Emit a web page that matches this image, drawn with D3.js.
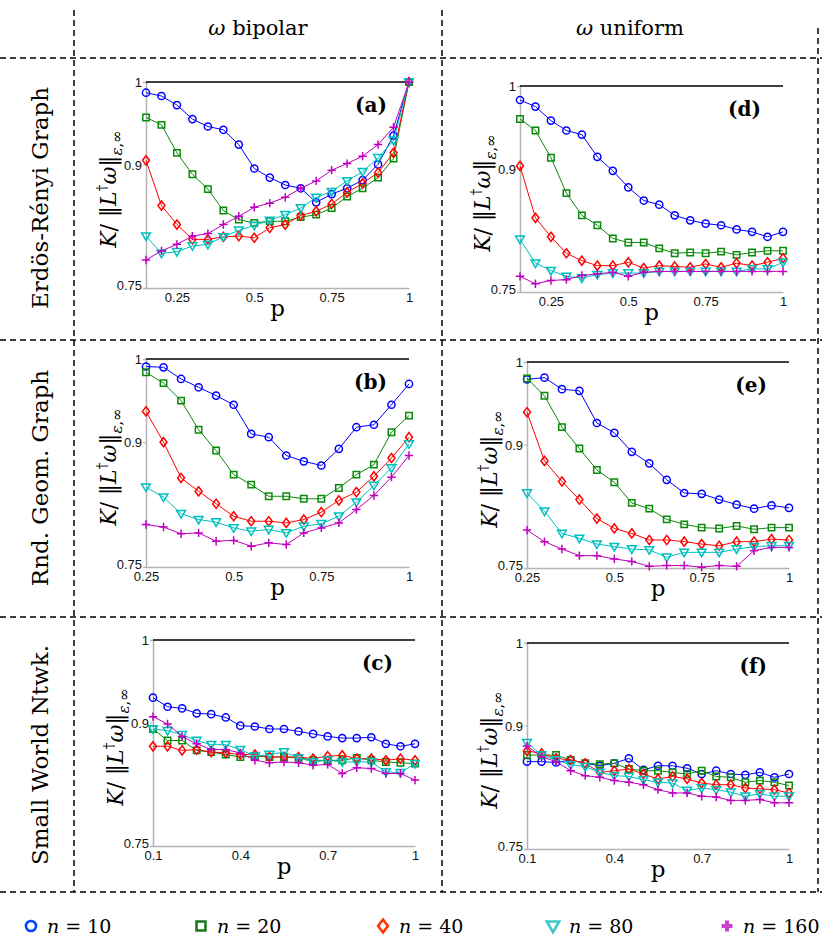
<!DOCTYPE html>
<html>
<head>
<meta charset="utf-8">
<script src="https://cdn.jsdelivr.net/npm/d3@7"></script>
<style>
  body { margin: 0; background: #fff; }
  svg { display: block; }
</style>
</head>
<body>
<div id="chart"></div>
<script>
/**
 * Data
 * */

// x grids (edge probability p)
const pER = [0.15, 0.2, 0.25, 0.3, 0.35, 0.4, 0.45, 0.5, 0.55, 0.6, 0.65, 0.7, 0.75, 0.8, 0.85, 0.9, 0.95, 1]
const pRG = [0.25, 0.3, 0.35, 0.4, 0.45, 0.5, 0.55, 0.6, 0.65, 0.7, 0.75, 0.8, 0.85, 0.9, 0.95, 1]
const pSW = [0.1, 0.15, 0.2, 0.25, 0.3, 0.35, 0.4, 0.45, 0.5, 0.55, 0.6, 0.65, 0.7, 0.75, 0.8, 0.85, 0.9, 0.95, 1]

const sizes = ['10', '20', '40', '80', '160']

// (a) Erdos-Renyi, bipolar
const aN10 = [0.987, 0.983, 0.972, 0.955, 0.946, 0.942, 0.924, 0.895, 0.884, 0.875, 0.871, 0.854, 0.864, 0.871, 0.881, 0.900, 0.935, 1.0]
const aN20 = [0.957, 0.948, 0.914, 0.888, 0.870, 0.844, 0.833, 0.829, 0.831, 0.831, 0.836, 0.839, 0.847, 0.861, 0.871, 0.884, 0.907, 1.0]
const aN40 = [0.905, 0.850, 0.827, 0.809, 0.809, 0.812, 0.813, 0.811, 0.823, 0.827, 0.838, 0.843, 0.852, 0.866, 0.877, 0.890, 0.914, 1.0]
const aN80 = [0.813, 0.792, 0.794, 0.801, 0.803, 0.812, 0.820, 0.826, 0.832, 0.839, 0.847, 0.860, 0.867, 0.880, 0.891, 0.908, 0.929, 1.0]
const aN160 = [0.784, 0.795, 0.803, 0.813, 0.816, 0.827, 0.837, 0.848, 0.853, 0.860, 0.871, 0.880, 0.893, 0.901, 0.910, 0.924, 0.945, 1.0]

// (d) Erdos-Renyi, uniform
const dN10 = [0.983, 0.975, 0.958, 0.946, 0.941, 0.914, 0.897, 0.877, 0.861, 0.856, 0.843, 0.837, 0.833, 0.831, 0.826, 0.823, 0.817, 0.823]
const dN20 = [0.960, 0.946, 0.913, 0.870, 0.843, 0.831, 0.815, 0.810, 0.810, 0.803, 0.797, 0.798, 0.797, 0.799, 0.795, 0.798, 0.800, 0.800]
const dN40 = [0.903, 0.840, 0.817, 0.797, 0.788, 0.782, 0.782, 0.786, 0.779, 0.782, 0.781, 0.780, 0.784, 0.780, 0.785, 0.782, 0.786, 0.791]
const dN80 = [0.814, 0.785, 0.776, 0.769, 0.767, 0.771, 0.773, 0.773, 0.773, 0.775, 0.775, 0.775, 0.775, 0.775, 0.775, 0.778, 0.778, 0.786]
const dN160 = [0.769, 0.760, 0.764, 0.765, 0.770, 0.772, 0.774, 0.769, 0.774, 0.775, 0.775, 0.775, 0.775, 0.775, 0.775, 0.775, 0.775, 0.775]

// (b) random geometric, bipolar
const bN10 = [0.991, 0.990, 0.976, 0.966, 0.956, 0.945, 0.910, 0.906, 0.884, 0.877, 0.872, 0.892, 0.918, 0.921, 0.945, 0.970]
const bN20 = [0.984, 0.971, 0.950, 0.915, 0.890, 0.861, 0.849, 0.835, 0.835, 0.832, 0.832, 0.845, 0.861, 0.873, 0.912, 0.932]
const bN40 = [0.937, 0.900, 0.857, 0.841, 0.826, 0.811, 0.805, 0.805, 0.803, 0.807, 0.816, 0.830, 0.840, 0.859, 0.881, 0.906]
const bN80 = [0.846, 0.834, 0.814, 0.807, 0.804, 0.797, 0.793, 0.795, 0.791, 0.799, 0.802, 0.811, 0.828, 0.848, 0.869, 0.898]
const bN160 = [0.801, 0.798, 0.790, 0.791, 0.781, 0.782, 0.775, 0.779, 0.777, 0.791, 0.797, 0.803, 0.819, 0.836, 0.858, 0.884]

// (e) random geometric, uniform
const eN10 = [0.979, 0.981, 0.967, 0.965, 0.926, 0.914, 0.891, 0.877, 0.857, 0.841, 0.840, 0.833, 0.827, 0.822, 0.826, 0.823]
const eN20 = [0.980, 0.959, 0.921, 0.895, 0.869, 0.854, 0.829, 0.822, 0.809, 0.803, 0.799, 0.798, 0.801, 0.797, 0.799, 0.799]
const eN40 = [0.939, 0.880, 0.855, 0.833, 0.810, 0.798, 0.792, 0.784, 0.784, 0.782, 0.779, 0.777, 0.782, 0.782, 0.785, 0.784]
const eN80 = [0.841, 0.819, 0.792, 0.786, 0.779, 0.776, 0.773, 0.772, 0.763, 0.769, 0.769, 0.769, 0.773, 0.776, 0.777, 0.777]
const eN160 = [0.796, 0.782, 0.773, 0.765, 0.765, 0.761, 0.758, 0.752, 0.753, 0.753, 0.751, 0.753, 0.752, 0.771, 0.775, 0.775]

// (c) small world, bipolar
const cN10 = [0.930, 0.919, 0.917, 0.911, 0.910, 0.906, 0.896, 0.895, 0.892, 0.892, 0.889, 0.886, 0.883, 0.881, 0.881, 0.882, 0.874, 0.871, 0.874]
const cN20 = [0.892, 0.878, 0.878, 0.866, 0.864, 0.861, 0.858, 0.859, 0.858, 0.858, 0.857, 0.854, 0.854, 0.854, 0.857, 0.854, 0.852, 0.851, 0.850]
const cN40 = [0.871, 0.871, 0.866, 0.867, 0.864, 0.863, 0.861, 0.861, 0.858, 0.858, 0.858, 0.856, 0.859, 0.860, 0.856, 0.856, 0.854, 0.856, 0.854]
const cN80 = [0.892, 0.890, 0.885, 0.878, 0.873, 0.873, 0.867, 0.859, 0.861, 0.864, 0.857, 0.852, 0.854, 0.852, 0.852, 0.852, 0.840, 0.839, 0.850]
const cN160 = [0.907, 0.898, 0.883, 0.874, 0.867, 0.867, 0.863, 0.854, 0.851, 0.852, 0.851, 0.848, 0.849, 0.838, 0.845, 0.844, 0.838, 0.838, 0.830]

// (f) small world, uniform
const fN10 = [0.856, 0.856, 0.855, 0.858, 0.854, 0.851, 0.854, 0.860, 0.846, 0.851, 0.851, 0.848, 0.841, 0.845, 0.841, 0.840, 0.843, 0.837, 0.841]
const fN20 = [0.864, 0.864, 0.864, 0.858, 0.854, 0.853, 0.854, 0.847, 0.845, 0.845, 0.843, 0.841, 0.845, 0.838, 0.837, 0.831, 0.833, 0.831, 0.827]
const fN40 = [0.869, 0.866, 0.860, 0.858, 0.854, 0.843, 0.845, 0.847, 0.841, 0.835, 0.838, 0.835, 0.830, 0.828, 0.828, 0.824, 0.823, 0.822, 0.818]
const fN80 = [0.879, 0.864, 0.858, 0.852, 0.850, 0.843, 0.839, 0.838, 0.834, 0.831, 0.830, 0.821, 0.824, 0.822, 0.819, 0.814, 0.817, 0.814, 0.814]
const fN160 = [0.875, 0.862, 0.856, 0.845, 0.839, 0.837, 0.833, 0.831, 0.828, 0.822, 0.818, 0.818, 0.814, 0.813, 0.809, 0.809, 0.810, 0.806, 0.806]

const yTicks = [0.75, 0.9, 1]
const xTicksER = [0.25, 0.5, 0.75, 1]
const xTicksRG = [0.25, 0.5, 0.75, 1]
const xTicksSW = [0.1, 0.4, 0.7, 1]

const colHeaders = ['bipolar', 'uniform']
const rowHeaders = ['Erdös-Rényi Graph', 'Rnd. Geom. Graph', 'Small World Ntwk.']


/**
 * Layout
 * */

const width = 822
const height = 939

const colors = ['#0000ff', '#0a8a0a', '#ff0000', '#00bfbf', '#bf00bf']
const legendColors = ['#0040ff', '#1a7a1a', '#ff3300', '#40c8c8', '#cc40cc']
const shapes = ['circle', 'square', 'diamond', 'triangle', 'plus']

// each panel: plot box in pixels + the arrays it uses
const panels = [
	{tag: '(a)', p: pER, xTicks: xTicksER, series: [aN10, aN20, aN40, aN80, aN160], box: [146, 409, 82, 288]},
	{tag: '(d)', p: pER, xTicks: xTicksER, series: [dN10, dN20, dN40, dN80, dN160], box: [520, 783, 86, 292]},
	{tag: '(b)', p: pRG, xTicks: xTicksRG, series: [bN10, bN20, bN40, bN80, bN160], box: [146, 409, 359, 567]},
	{tag: '(e)', p: pRG, xTicks: xTicksRG, series: [eN10, eN20, eN40, eN80, eN160], box: [527, 789, 362, 568]},
	{tag: '(c)', p: pSW, xTicks: xTicksSW, series: [cN10, cN20, cN40, cN80, cN160], box: [153, 415, 640, 846]},
	{tag: '(f)', p: pSW, xTicks: xTicksSW, series: [fN10, fN20, fN40, fN80, fN160], box: [527, 789, 643, 849]}
]

const serif = '"DejaVu Serif", "Liberation Serif", serif'
const sans = '"Liberation Sans", Arial, sans-serif'

// marker outlines centred on 0,0
const markerPath = (shape, k = 1) => {
	if (shape == 'circle') { const r = 3.6 * k; return `M${r},0A${r},${r} 0 1,1 ${-r},0A${r},${r} 0 1,1 ${r},0Z` }
	if (shape == 'square') { const s = 3.2 * k; return `M${-s},${-s}H${s}V${s}H${-s}Z` }
	if (shape == 'diamond') { const w = 3.5 * k, h = 4.6 * k; return `M0,${-h}L${w},0L0,${h}L${-w},0Z` }
	if (shape == 'triangle') { const w = 4.4 * k; return `M${-w},${-3.2 * k}L${w},${-3.2 * k}L0,${4.4 * k}Z` }
	const s = 4.2 * k
	return `M${-s},0H${s}M0,${-s}V${s}`
}

const $svg = d3.select('#chart')
	.append('svg')
	.attr('width', width)
	.attr('height', height)


/**
 * Dashed grid and headers
 * */

const $grid = $svg.append('g')
	.attr('stroke', '#000')
	.attr('stroke-width', 1.5)
	.attr('stroke-dasharray', '6,4')

;[58, 340, 617, 892].forEach(y => $grid.append('line').attr('x1', 0).attr('x2', width).attr('y1', y).attr('y2', y))
$grid.append('line').attr('x1', 74).attr('x2', 74).attr('y1', 10).attr('y2', 892)
$grid.append('line').attr('x1', 442).attr('x2', 442).attr('y1', 10).attr('y2', 892)
$grid.append('line').attr('x1', 818).attr('x2', 818).attr('y1', 28).attr('y2', 892)

const colCentres = [258, 630]
colHeaders.forEach((h, i) => {
	const t = $svg.append('text')
		.attr('x', colCentres[i])
		.attr('y', 35)
		.attr('text-anchor', 'middle')
		.attr('font-family', serif)
		.attr('font-size', 21)
	t.append('tspan').attr('font-style', 'italic').text('ω')
	t.append('tspan').text(' ' + h)
})

const rowCentres = [198, 478, 755]
rowHeaders.forEach((h, i) => {
	$svg.append('text')
		.attr('transform', `translate(48, ${rowCentres[i]}) rotate(-90)`)
		.attr('text-anchor', 'middle')
		.attr('font-family', serif)
		.attr('font-size', 23)
		.text(h)
})


/**
 * Panels
 * */

panels.forEach(panel => {
	const [x0, x1, y0, y1] = panel.box

	const x = d3.scaleLinear()
		.domain([panel.p[0], 1])
		.range([x0, x1])

	const y = d3.scaleLinear()
		.domain([0.75, 1])
		.range([y1, y0])

	const $g = $svg.append('g')

	// axes, grey like the matlab export
	const $yAxis = $g.append('g')
		.attr('transform', `translate(${x0}, 0)`)
		.call(d3.axisLeft(y).tickValues(yTicks).tickSize(3).tickPadding(1).tickFormat(d => String(d)))
	const $xAxis = $g.append('g')
		.attr('transform', `translate(0, ${y1})`)
		.call(d3.axisBottom(x).tickValues(panel.xTicks).tickSize(0).tickPadding(5).tickFormat(d => String(d)))

	;[$yAxis, $xAxis].forEach($a => {
		$a.select('.domain').attr('stroke', '#b4b4b4').attr('stroke-width', 1.5)
		$a.selectAll('.tick line').attr('stroke', '#b4b4b4')
		$a.selectAll('text').attr('font-family', sans).attr('font-size', 13).attr('fill', '#111')
	})
	// lowest y label sits a touch higher so it clears the first x label
	$yAxis.selectAll('.tick text').attr('dy', d => d == 0.75 ? '0.1em' : '0.36em')

	// reference line at 1
	$g.append('line')
		.attr('x1', x0)
		.attr('x2', x1)
		.attr('y1', y(1))
		.attr('y2', y(1))
		.attr('stroke', '#000')
		.attr('stroke-width', 1.5)

	const line = d3.line()
		.x((d, i) => x(panel.p[i]))
		.y(d => y(d))

	panel.series.forEach((values, si) => {
		$g.append('path')
			.datum(values)
			.attr('d', line)
			.attr('fill', 'none')
			.attr('stroke', colors[si])
			.attr('stroke-width', 1)

		$g.selectAll(null)
			.data(values)
			.join('path')
				.attr('transform', (d, i) => `translate(${x(panel.p[i])}, ${y(d)})`)
				.attr('d', markerPath(shapes[si]))
				.attr('fill', 'none')
				.attr('stroke', colors[si])
				.attr('stroke-width', 1.5)
	})

	// panel tag
	$g.append('text')
		.attr('x', x1 - 22)
		.attr('y', y0 + 30)
		.attr('text-anchor', 'end')
		.attr('font-family', serif)
		.attr('font-weight', 'bold')
		.attr('font-size', 20)
		.text(panel.tag)

	// axis titles
	$g.append('text')
		.attr('x', (x0 + x1) / 2)
		.attr('y', y1 + 28)
		.attr('text-anchor', 'middle')
		.attr('font-family', serif)
		.attr('font-size', 23)
		.text('p')

	const $yl = $g.append('text')
		.attr('transform', `translate(${x0 - 30}, ${(y0 + y1) / 2 + 4}) rotate(-90)`)
		.attr('text-anchor', 'middle')
		.attr('font-family', serif)
		.attr('font-size', 22)
	$yl.append('tspan').attr('font-style', 'italic').text('K')
	$yl.append('tspan').text('/ ‖')
	$yl.append('tspan').attr('font-style', 'italic').text('L')
	$yl.append('tspan').attr('font-size', 14).attr('dy', -9).text('†')
	$yl.append('tspan').attr('font-style', 'italic').attr('dy', 9).text('ω')
	$yl.append('tspan').text('‖')
	$yl.append('tspan').attr('font-style', 'italic').attr('font-size', 15).attr('dy', 6).text('ε')
	$yl.append('tspan').attr('font-size', 15).text(',∞')
})


/**
 * Legend
 * */

const legendX = [31, 201, 383, 553, 727]
const legendY = 926

sizes.forEach((n, i) => {
	const $item = $svg.append('g')
		.attr('transform', `translate(${legendX[i]}, ${legendY})`)

	if (shapes[i] == 'plus') {
		$item.append('path')
			.attr('d', markerPath('plus', 1.3))
			.attr('stroke', legendColors[i])
			.attr('stroke-width', 4)
	} else {
		$item.append('path')
			.attr('d', markerPath(shapes[i], 1.4))
			.attr('fill', 'none')
			.attr('stroke', legendColors[i])
			.attr('stroke-width', 2.6)
	}

	const t = $item.append('text')
		.attr('x', 16)
		.attr('y', 7)
		.attr('font-family', serif)
		.attr('font-size', 19)
	t.append('tspan').attr('font-style', 'italic').text('n')
	t.append('tspan').text(' = ' + n)
})
</script>
</body>
</html>
